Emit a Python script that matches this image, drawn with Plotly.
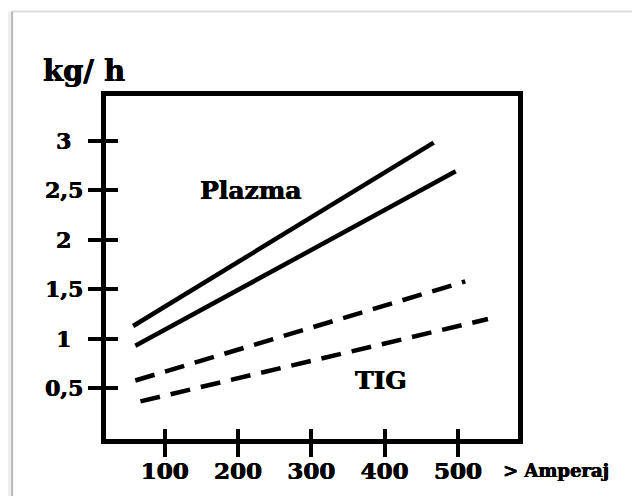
import plotly.graph_objects as go

# Data
plazma_upper_x = [57, 467]
plazma_upper_y = [1.13, 2.98]
plazma_lower_x = [60, 497]
plazma_lower_y = [0.93, 2.69]
tig_upper_x = [60, 510]
tig_upper_y = [0.58, 1.58]
tig_lower_x = [67, 541]
tig_lower_y = [0.37, 1.20]

x_ticks = [100, 200, 300, 400, 500]
x_tick_labels = ["100", "200", "300", "400", "500"]
y_ticks = [0.5, 1, 1.5, 2, 2.5, 3]
y_tick_labels = ["0,5", "1", "1,5", "2", "2,5", "3"]

FONT = "DejaVu Serif"
HEAVY = "0.5px 0 0 black, -0.3px 0 0 black"
fig = go.Figure()

solid = dict(color="black", width=4.5)
dashed = dict(color="black", width=4.5, dash="20px,11px")

fig.add_trace(go.Scatter(x=plazma_upper_x, y=plazma_upper_y, mode="lines", line=solid, showlegend=False))
fig.add_trace(go.Scatter(x=plazma_lower_x, y=plazma_lower_y, mode="lines", line=solid, showlegend=False))
fig.add_trace(go.Scatter(x=tig_upper_x, y=tig_upper_y, mode="lines", line=dashed, showlegend=False))
fig.add_trace(go.Scatter(x=tig_lower_x, y=tig_lower_y, mode="lines", line=dashed, showlegend=False))

xr = [20, 582]
yr = [-0.01, 3.45]
tickfont = dict(family=FONT, size=23, color="black", weight="bold", shadow=HEAVY)

fig.update_layout(
    width=624, height=488,
    margin=dict(l=98, r=114, t=88, b=55),
    paper_bgcolor="white", plot_bgcolor="white",
    showlegend=False,
    xaxis=dict(range=xr, tickvals=x_ticks, ticktext=x_tick_labels, ticks="outside",
               ticklen=13, tickwidth=4, tickcolor="black", showline=True, linewidth=5,
               linecolor="black", mirror=True, showgrid=False, zeroline=False,
               tickfont=tickfont, ticklabelstandoff=-6),
    yaxis=dict(range=yr, tickvals=y_ticks, ticks="outside", showticklabels=False,
               ticklen=13, tickwidth=4, tickcolor="black", showline=True, linewidth=5,
               linecolor="black", mirror=True, showgrid=False, zeroline=False),
    xaxis2=dict(range=xr, overlaying="x", side="bottom", tickvals=x_ticks, ticks="inside",
                ticklen=10, tickwidth=4, tickcolor="black", showticklabels=False,
                showgrid=False, zeroline=False, showline=False),
    yaxis2=dict(range=yr, overlaying="y", side="left", tickvals=y_ticks, ticks="inside",
                ticklen=12, tickwidth=4, tickcolor="black", showticklabels=False,
                showgrid=False, zeroline=False, showline=False),
)

# dummy trace to activate the inside-tick axes
fig.add_trace(go.Scatter(x=[None], y=[None], xaxis="x2", yaxis="y2", showlegend=False))

# y tick labels, centred in their column as in the reference
for v, t in zip(y_ticks, y_tick_labels):
    fig.add_annotation(xref="paper", yref="y", x=-0.102, y=v, text=t, showarrow=False,
                       xanchor="center", yanchor="middle",
                       font=dict(family=FONT, size=22, color="black", weight="bold", shadow=HEAVY))

labfont = dict(family=FONT, size=25, color="black", weight="bold", shadow=HEAVY)
fig.add_annotation(x=217, y=2.5, text="Plazma", showarrow=False, font=labfont)
fig.add_annotation(x=395, y=0.58, text="TIG", showarrow=False, font=labfont)
fig.add_annotation(xref="paper", yref="paper", x=-0.158, y=1.072, xanchor="left", yanchor="middle",
                   text="kg/ h", showarrow=False,
                   font=dict(family=FONT, size=29, color="black", weight="bold", shadow=HEAVY))
fig.add_annotation(xref="paper", yref="paper", x=0.958, y=-0.092, xanchor="left", yanchor="middle",
                   text="> Amperaj", showarrow=False,
                   font=dict(family=FONT, size=18, color="black", weight="bold", shadow=HEAVY))

# picture frame with soft shadow
fig.add_shape(type="line", xref="paper", yref="paper", x0=-0.228, x1=1.3, y0=1.246, y1=1.246,
              line=dict(color="#dcdcdc", width=2), layer="below")
fig.add_shape(type="rect", xref="paper", yref="paper", x0=-0.255, x1=-0.231, y0=-0.2, y1=1.246,
              line=dict(width=0), fillcolor="#eeeeee", layer="below")
fig.add_shape(type="line", xref="paper", yref="paper", x0=-0.228, x1=-0.228, y0=-0.2, y1=1.246,
              line=dict(color="#b8b8b8", width=2), layer="below")

fig.write_html("out.html")
